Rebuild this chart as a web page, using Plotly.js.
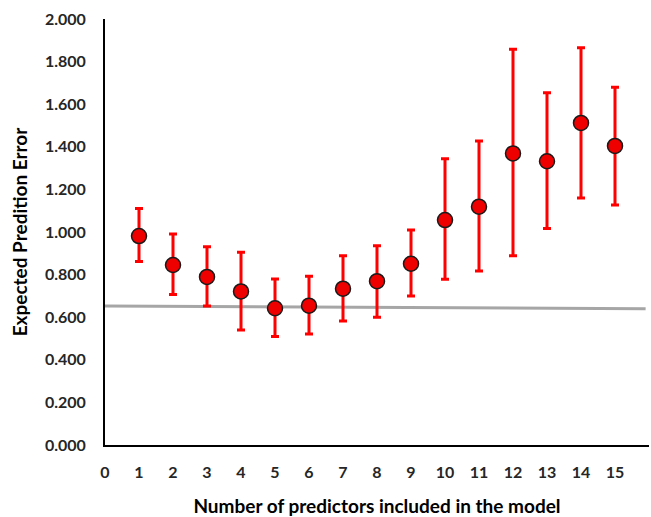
<!DOCTYPE html>
<html><head><meta charset="utf-8">
<script src="https://cdn.plot.ly/plotly-3.0.1.min.js"></script>
<style>html,body{margin:0;padding:0;background:#fff;}#chart{width:651px;height:517px;}</style>
</head><body><div id="chart"></div>
<script>
const predictors = [1,2,3,4,5,6,7,8,9,10,11,12,13,14,15];
const epe   = [0.981,0.845,0.789,0.721,0.642,0.654,0.734,0.769,0.851,1.056,1.119,1.369,1.332,1.512,1.404];
const upper = [1.110,0.991,0.931,0.905,0.779,0.792,0.889,0.936,1.009,1.344,1.427,1.858,1.654,1.865,1.679];
const lower = [0.861,0.706,0.653,0.540,0.509,0.521,0.582,0.600,0.700,0.778,0.817,0.889,1.016,1.160,1.127];
const refX = [0, 15.9];
const refY = [0.652, 0.640];
const xTicks = [0,1,2,3,4,5,6,7,8,9,10,11,12,13,14,15];
const yTicks = [0,0.2,0.4,0.6,0.8,1.0,1.2,1.4,1.6,1.8,2.0];

const plus = epe.map((v,i)=>upper[i]-v);
const minus = epe.map((v,i)=>v-lower[i]);
const FONT = 'Lato, "Open Sans", sans-serif';

const traces = [
  {x: refX, y: refY, mode:'lines', line:{color:'#a6a6a6', width:3}, hoverinfo:'skip', showlegend:false},
  {x: predictors, y: epe, mode:'markers', type:'scatter', showlegend:false,
   marker:{color:'#ee0000', size:15, line:{color:'#1a1a1a', width:1.5}},
   error_y:{type:'data', symmetric:false, array:plus, arrayminus:minus, color:'#ff0000', thickness:3, width:4}}
];

const layout = {
  width:651, height:517,
  margin:{l:105, r:2, t:19, b:72},
  paper_bgcolor:'#fff', plot_bgcolor:'#fff',
  font:{family:FONT, color:'#262626'},
  showlegend:false,
  xaxis:{range:[0,16], tickvals:xTicks, ticktext:xTicks.map(String), showgrid:false, zeroline:false,
    showline:true, linecolor:'#000', linewidth:2, ticks:'outside', ticklen:12, tickcolor:'rgba(0,0,0,0)',
    tickfont:{family:FONT, size:16, color:'#262626', weight:'bold'},
    title:{text:'Number of predictors included in the model', font:{family:FONT, size:19, color:'#000', weight:'bold'}, standoff:20}},
  yaxis:{range:[0,2], tickvals:yTicks, ticktext:yTicks.map(v=>v.toFixed(3)), showgrid:false, zeroline:false,
    showline:true, linecolor:'#000', linewidth:2, ticks:'outside', ticklen:14, tickcolor:'rgba(0,0,0,0)',
    tickfont:{family:FONT, size:16, color:'#262626', weight:'bold'},
    title:{text:'Expected Predition Error', font:{family:FONT, size:19, color:'#000', weight:'bold'}, standoff:12}}
};
Plotly.newPlot('chart', traces, layout, {displayModeBar:false, staticPlot:true});
</script></body></html>
